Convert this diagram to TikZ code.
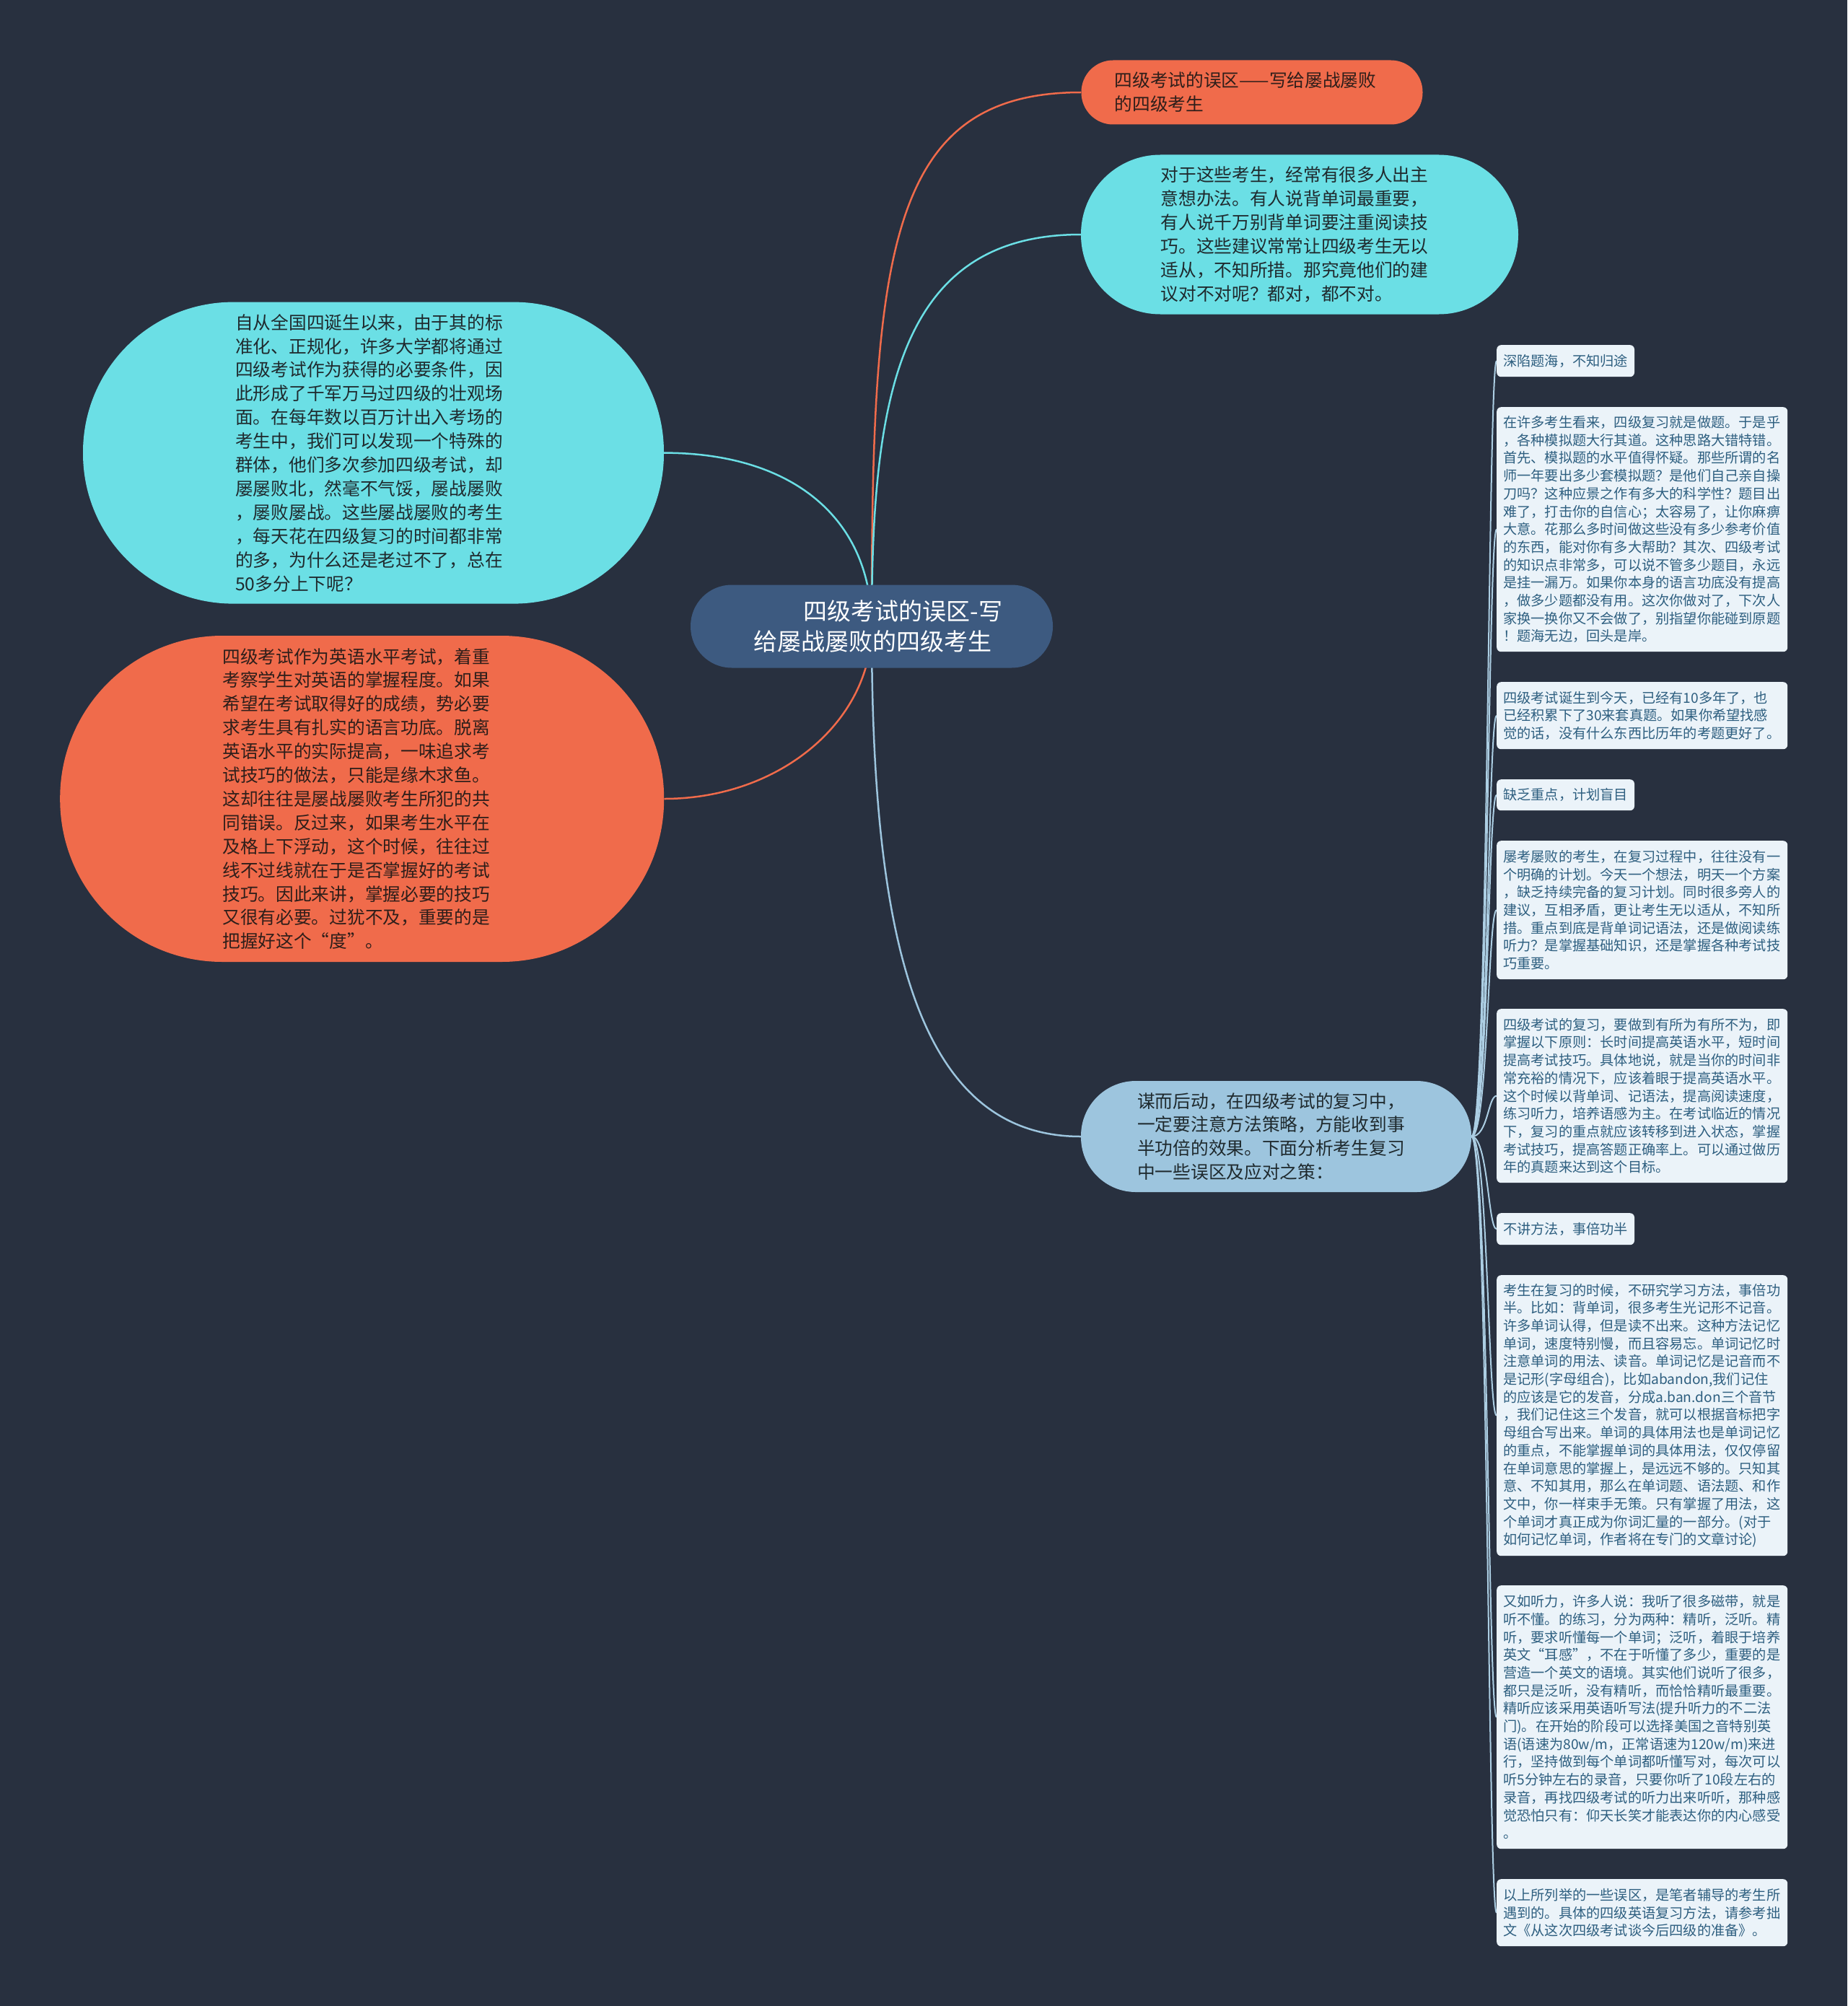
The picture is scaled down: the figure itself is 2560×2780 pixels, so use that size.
\documentclass[tikz,border=0pt]{standalone}
\usepackage{fontspec}
\newfontfamily\cjk{Noto Sans CJK SC}
\usetikzlibrary{backgrounds}
\definecolor{bg}{HTML}{28303F}
\definecolor{rootc}{HTML}{3D5A80}
\definecolor{orangec}{HTML}{F06B4B}
\definecolor{cyanc}{HTML}{6BDFE5}
\definecolor{bluec}{HTML}{9DC5DE}
\definecolor{boxfill}{HTML}{EBF3F9}
\definecolor{boxtext}{HTML}{2E5F80}
\definecolor{otext}{HTML}{2E1E1A}
\definecolor{ctext}{HTML}{1F2A2E}
\begin{document}
\begin{tikzpicture}[x=1pt,y=-1pt,
  bignode/.style={rectangle, inner sep=0pt, align=left, font=\cjk\fontsize{24.7}{32.9}\selectfont},
  rbox/.style={rectangle, rounded corners=6pt, fill=boxfill, text=boxtext, align=left,
    inner xsep=9pt, inner ysep=3pt, anchor=north west, font=\cjk\fontsize{19.2}{24.7}\selectfont},
  rboxw/.style={rbox, text width=385pt},
  oedge/.style={draw=orangec, line width=2.5pt},
  cedge/.style={draw=cyanc, line width=2.5pt},
  bedge/.style={draw=bluec, line width=2.5pt},
  branch/.style={draw=bluec!85!white, line width=2pt}]
\useasboundingbox (0,0) rectangle (2560,2780);
\begin{scope}[on background layer]
  \fill[bg] (0,0) rectangle (2560,2780);
\end{scope}

% root
\node[bignode, fill=rootc, text=white, minimum width=502pt, minimum height=115pt,
  rounded corners=57pt, font=\cjk\fontsize{33}{42.5}\selectfont] (root) at (1208,868)
  {\hspace*{87pt}四级考试的误区-写\\\hspace*{18pt}给屡战屡败的四级考生};

% top right
\node[bignode, fill=orangec, text=otext, minimum width=473pt, minimum height=89pt,
  rounded corners=44pt] (t1) at (1735,128)
  {四级考试的误区——写给屡战屡败\hspace*{18pt}\\的四级考生};

\node[bignode, fill=cyanc, text=ctext, minimum width=606pt, minimum height=221pt,
  rounded corners=110pt] (t2) at (1801,325)
  {对于这些考生，经常有很多人出主\hspace*{14pt}\\
意想办法。有人说背单词最重要，\\
有人说千万别背单词要注重阅读技\\
巧。这些建议常常让四级考生无以\\
适从，不知所措。那究竟他们的建\\
议对不对呢？都对，都不对。};

% left
\node[bignode, fill=cyanc, text=ctext, minimum width=805pt, minimum height=418pt,
  rounded corners=208pt] (l1) at (517.5,627.6)
  {自从全国四诞生以来，由于其的标\hspace*{12pt}\\
准化、正规化，许多大学都将通过\\
四级考试作为获得的必要条件，因\\
此形成了千军万马过四级的壮观场\\
面。在每年数以百万计出入考场的\\
考生中，我们可以发现一个特殊的\\
群体，他们多次参加四级考试，却\\
屡屡败北，然毫不气馁，屡战屡败\\
，屡败屡战。这些屡战屡败的考生\\
，每天花在四级复习的时间都非常\\
的多，为什么还是老过不了，总在\\
50多分上下呢？};

\node[bignode, fill=orangec, text=otext, minimum width=837pt, minimum height=452pt,
  rounded corners=225pt] (l2) at (501.7,1107)
  {四级考试作为英语水平考试，着重\hspace*{16pt}\\
考察学生对英语的掌握程度。如果\\
希望在考试取得好的成绩，势必要\\
求考生具有扎实的语言功底。脱离\\
英语水平的实际提高，一味追求考\\
试技巧的做法，只能是缘木求鱼。\\
这却往往是屡战屡败考生所犯的共\\
同错误。反过来，如果考生水平在\\
及格上下浮动，这个时候，往往过\\
线不过线就在于是否掌握好的考试\\
技巧。因此来讲，掌握必要的技巧\\
又很有必要。过犹不及，重要的是\\
把握好这个“度”。};

% bottom middle
\node[bignode, fill=bluec, text=ctext, minimum width=541pt, minimum height=154pt,
  rounded corners=76pt] (bot) at (1768.5,1575)
  {谋而后动，在四级考试的复习中，\hspace*{14pt}\\
一定要注意方法策略，方能收到事\\
半功倍的效果。下面分析考生复习\\
中一些误区及应对之策：};

% right boxes
\node[rbox, minimum height=44pt] (b1) at (2074,478) {深陷题海，不知归途};
\node[rboxw, minimum height=339pt] (b2) at (2074,564)
  {在许多考生看来，四级复习就是做题。于是乎\\
，各种模拟题大行其道。这种思路大错特错。\\
首先、模拟题的水平值得怀疑。那些所谓的名\\
师一年要出多少套模拟题？是他们自己亲自操\\
刀吗？这种应景之作有多大的科学性？题目出\\
难了，打击你的自信心；太容易了，让你麻痹\\
大意。花那么多时间做这些没有多少参考价值\\
的东西，能对你有多大帮助？其次、四级考试\\
的知识点非常多，可以说不管多少题目，永远\\
是挂一漏万。如果你本身的语言功底没有提高\\
，做多少题都没有用。这次你做对了，下次人\\
家换一换你又不会做了，别指望你能碰到原题\\
！题海无边，回头是岸。};
\node[rboxw, minimum height=93pt] (b3) at (2074,945)
  {四级考试诞生到今天，已经有10多年了，也\\
已经积累下了30来套真题。如果你希望找感\\
觉的话，没有什么东西比历年的考题更好了。};
\node[rbox, minimum height=43pt] (b4) at (2074,1080) {缺乏重点，计划盲目};
\node[rboxw, minimum height=192pt] (b5) at (2074,1165)
  {屡考屡败的考生，在复习过程中，往往没有一\\
个明确的计划。今天一个想法，明天一个方案\\
，缺乏持续完备的复习计划。同时很多旁人的\\
建议，互相矛盾，更让考生无以适从，不知所\\
措。重点到底是背单词记语法，还是做阅读练\\
听力？是掌握基础知识，还是掌握各种考试技\\
巧重要。};
\node[rboxw, minimum height=241pt] (b6) at (2074,1398)
  {四级考试的复习，要做到有所为有所不为，即\\
掌握以下原则：长时间提高英语水平，短时间\\
提高考试技巧。具体地说，就是当你的时间非\\
常充裕的情况下，应该着眼于提高英语水平。\\
这个时候以背单词、记语法，提高阅读速度，\\
练习听力，培养语感为主。在考试临近的情况\\
下，复习的重点就应该转移到进入状态，掌握\\
考试技巧，提高答题正确率上。可以通过做历\\
年的真题来达到这个目标。};
\node[rbox, minimum height=44pt] (b7) at (2074,1681) {不讲方法，事倍功半};
\node[rboxw, minimum height=389pt] (b8) at (2074,1767)
  {考生在复习的时候，不研究学习方法，事倍功\\
半。比如：背单词，很多考生光记形不记音。\\
许多单词认得，但是读不出来。这种方法记忆\\
单词，速度特别慢，而且容易忘。单词记忆时\\
注意单词的用法、读音。单词记忆是记音而不\\
是记形(字母组合)，比如abandon,我们记住\\
的应该是它的发音，分成a.ban.don三个音节\\
，我们记住这三个发音，就可以根据音标把字\\
母组合写出来。单词的具体用法也是单词记忆\\
的重点，不能掌握单词的具体用法，仅仅停留\\
在单词意思的掌握上，是远远不够的。只知其\\
意、不知其用，那么在单词题、语法题、和作\\
文中，你一样束手无策。只有掌握了用法，这\\
个单词才真正成为你词汇量的一部分。(对于\\
如何记忆单词，作者将在专门的文章讨论)};
\node[rboxw, minimum height=365pt] (b9) at (2074,2197)
  {又如听力，许多人说：我听了很多磁带，就是\\
听不懂。的练习，分为两种：精听，泛听。精\\
听，要求听懂每一个单词；泛听，着眼于培养\\
英文“耳感”，不在于听懂了多少，重要的是\\
营造一个英文的语境。其实他们说听了很多，\\
都只是泛听，没有精听，而恰恰精听最重要。\\
精听应该采用英语听写法(提升听力的不二法\\
门)。在开始的阶段可以选择美国之音特别英\\
语(语速为80w/m，正常语速为120w/m)来进\\
行，坚持做到每个单词都听懂写对，每次可以\\
听5分钟左右的录音，只要你听了10段左右的\\
录音，再找四级考试的听力出来听听，那种感\\
觉恐怕只有：仰天长笑才能表达你的内心感受\\
。};
\node[rboxw, minimum height=93pt] (b10) at (2074,2604)
  {以上所列举的一些误区，是笔者辅导的考生所\\
遇到的。具体的四级英语复习方法，请参考拙\\
文《从这次四级考试谈今后四级的准备》。};

% connectors
\begin{scope}[on background layer]
  \draw[oedge] (root.center) .. controls (1208,350) and (1230,128) .. (t1.west);
  \draw[cedge] (root.center) .. controls (1208,550) and (1245,325) .. (t2.west);
  \draw[cedge] (l1.east) .. controls (1100,627.6) and (1208,720) .. (root.center);
  \draw[oedge] (l2.east) .. controls (1080,1107) and (1208,1000) .. (root.center);
  \draw[bedge] (root.center) .. controls (1208,1300) and (1270,1575) .. (bot.west);
  \foreach \b in {b1,b2,b3,b4,b5,b6,b7,b8,b9,b10}
    \draw[branch] (bot.east) .. controls +(23,0) and +(-12,0) .. (\b.west);
\end{scope}
\end{tikzpicture}
\end{document}
